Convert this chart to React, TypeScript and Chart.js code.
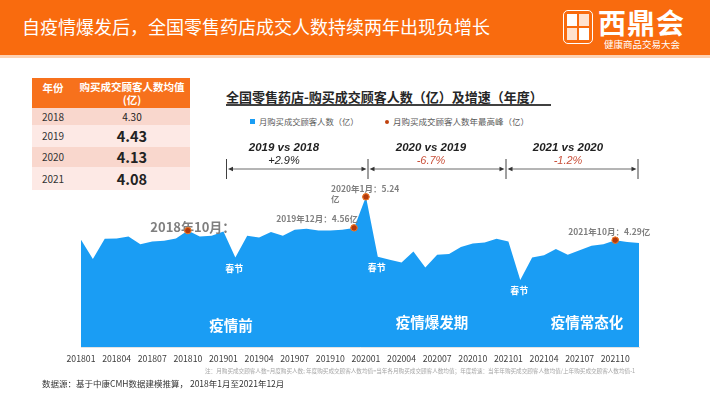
import React, { useEffect, useRef } from 'react';
import { Chart, registerables } from 'chart.js';

Chart.register(...registerables);

const months = [
  '201801', '201802', '201803', '201804', '201805', '201806', '201807', '201808', '201809', '201810', '201811', '201812',
  '201901', '201902', '201903', '201904', '201905', '201906', '201907', '201908', '201909', '201910', '201911', '201912',
  '202001', '202002', '202003', '202004', '202005', '202006', '202007', '202008', '202009', '202010', '202011', '202012',
  '202101', '202102', '202103', '202104', '202105', '202106', '202107', '202108', '202109', '202110', '202111', '202112',
];

const customers = [
  4.30, 3.88, 4.32, 4.33, 4.37, 4.20, 4.26, 4.28, 4.33, 4.50, 4.37, 4.39,
  4.48, 3.91, 4.39, 4.35, 4.47, 4.39, 4.52, 4.54, 4.50, 4.50, 4.52, 4.56,
  5.24, 3.93, 3.86, 3.80, 4.04, 3.69, 3.97, 3.99, 4.14, 4.22, 4.24, 4.32,
  4.26, 3.42, 3.91, 3.96, 4.10, 3.97, 4.07, 4.17, 4.20, 4.29, 4.25, 4.23,
];

const peakMonths = ['201810', '201912', '202001', '202110'];
const peakLabels = ['2018年10月：', '2019年12月：4.56亿', '2020年1月：5.24\n亿', '2021年10月：4.29亿'];
const springFestivalMonths = ['201902', '202002', '202102'];
const phaseLabels = ['疫情前', '疫情爆发期', '疫情常态化'];

const tableYears = ['2018', '2019', '2020', '2021'];
const tableAverages = [4.30, 4.43, 4.13, 4.08];

const comparisons = ['2019 vs 2018', '2020 vs 2019', '2021 vs 2020'];
const growthRates = ['+2.9%', '-6.7%', '-1.2%'];

const CJK = '"Noto Sans CJK SC", "Noto Sans", sans-serif';
const ORANGE = '#F96B0E';
const BLUE = '#1A9DF4';

const peakStyles = [
  { font: `bold 13px ${CJK}`, align: 'center', dx: 5, dy: -4 },
  { font: `bold 8.5px ${CJK}`, align: 'right', dx: 4, dy: -9 },
  { font: `bold 8.5px ${CJK}`, align: 'left', dx: -35, dy: -8 },
  { font: `bold 8.5px ${CJK}`, align: 'center', dx: -6, dy: -8 },
];

const annotationPlugin = {
  id: 'slideAnnotations',
  afterDatasetsDraw(chart: any) {
    const { ctx } = chart;
    const xs = chart.scales.x;
    const ys = chart.scales.y;
    ctx.save();
    ctx.textBaseline = 'middle';
    peakMonths.forEach((m, k) => {
      const i = months.indexOf(m);
      const px = xs.getPixelForValue(i);
      const py = ys.getPixelForValue(customers[i]);
      const st = peakStyles[k];
      ctx.font = st.font;
      ctx.fillStyle = '#7F7F7F';
      ctx.textAlign = st.align;
      peakLabels[k].split('\n').forEach((line, li) => {
        ctx.fillText(line, px + st.dx, py + st.dy + li * 10);
      });
    });
    ctx.font = `bold 9px ${CJK}`;
    ctx.fillStyle = '#FFFFFF';
    ctx.textAlign = 'center';
    springFestivalMonths.forEach((m) => {
      const i = months.indexOf(m);
      const px = xs.getPixelForValue(i);
      const py = ys.getPixelForValue(customers[i]);
      ctx.fillText('春节', px - 1, py + 11);
    });
    // redraw peak dots above the labels
    peakMonths.forEach((m) => {
      const i = months.indexOf(m);
      const px = xs.getPixelForValue(i);
      const py = ys.getPixelForValue(customers[i]);
      ctx.beginPath();
      ctx.arc(px, py, 3.2, 0, Math.PI * 2);
      ctx.fillStyle = '#B33A0C';
      ctx.fill();
      ctx.lineWidth = 1;
      ctx.strokeStyle = '#EE7A2A';
      ctx.stroke();
    });
    ctx.restore();
  },
};

function ChartCanvas() {
  const ref = useRef<HTMLCanvasElement | null>(null);
  useEffect(() => {
    if (!ref.current) return;
    const peakSeries = months.map((m, i) => (peakMonths.includes(m) ? customers[i] : null));
    const chart = new Chart(ref.current, {
      type: 'line',
      data: {
        labels: months,
        datasets: [
          {
            label: '月购买成交顾客人数（亿）',
            data: customers,
            fill: 'start',
            backgroundColor: BLUE,
            borderColor: BLUE,
            borderWidth: 0,
            pointRadius: 0,
            tension: 0,
          },
          {
            label: '月购买成交顾客人数年最高峰（亿）',
            data: peakSeries,
            showLine: false,
            pointRadius: 3.2,
            pointBackgroundColor: '#B33A0C',
            pointBorderColor: '#EE7A2A',
            pointBorderWidth: 1,
          },
        ],
      },
      options: {
        responsive: false,
        maintainAspectRatio: false,
        animation: false,
        layout: { padding: { left: 81, right: 71, top: 190, bottom: 35 } },
        plugins: { legend: { display: false }, tooltip: { enabled: false } },
        scales: {
          x: {
            grid: { display: false, drawTicks: false },
            border: { display: true, color: '#E3E3E3' },
            afterFit: (s: any) => { s.height = 17; },
            ticks: {
              autoSkip: false,
              maxRotation: 0,
              padding: 6,
              color: '#404040',
              font: { size: 8.7, family: CJK },
              callback: (_v: any, i: number) => (i % 3 === 0 ? months[i] : ''),
            },
          },
          y: { display: false, min: 1.95, max: 5.39 },
        },
      },
      plugins: [annotationPlugin],
    });
    return () => chart.destroy();
  }, []);
  return (
    <canvas
      ref={ref}
      width={710}
      height={399}
      style={{ position: 'absolute', left: 0, top: 0, width: 710, height: 399 }}
    />
  );
}

const abs = (s: any) => ({ position: 'absolute', ...s });

export default function App() {
  const rowBg = ['#F9D7CD', '#FDE9E5', '#F9D7CD', '#FDE9E5'];
  const rowTop = [108, 125, 147, 167];
  const rowH = [17, 22, 20, 23];
  const tickX = [226.5, 368, 506, 638];
  return (
    <div style={{ position: 'fixed', left: 0, top: 0, width: 710, height: 399, overflow: 'hidden', background: '#fff', fontFamily: CJK }}>
      {/* header */}
      <div style={abs({ left: 0, top: 0, width: 710, height: 55, background: ORANGE })} />
      <div style={abs({ left: 0, top: 55, width: 710, height: 3, background: '#FDD2B3' })} />
      <div style={abs({ left: 22, top: 15, color: '#fff', fontSize: 18, lineHeight: '22px', whiteSpace: 'nowrap' })}>
        自疫情爆发后，全国零售药店成交人数持续两年出现负增长
      </div>
      {/* logo */}
      <div style={abs({ left: 563, top: 10, width: 30, height: 34, border: '1.5px solid #fff', borderRadius: 5, boxSizing: 'border-box' })} />
      <div style={abs({ left: 567, top: 14, width: 10, height: 12, background: '#fff' })} />
      <div style={abs({ left: 579, top: 14, width: 10, height: 12, background: '#FFE2CF' })} />
      <div style={abs({ left: 567, top: 28, width: 10, height: 12, background: '#FFE2CF' })} />
      <div style={abs({ left: 579, top: 28, width: 10, height: 12, background: '#fff' })} />
      <div style={abs({ left: 598, top: 6, color: '#fff', fontSize: 28, fontWeight: 700, lineHeight: '32px', letterSpacing: 1, whiteSpace: 'nowrap' })}>西鼎会</div>
      <div style={abs({ left: 604, top: 38, color: '#fff', fontSize: 9.5, lineHeight: '12px', whiteSpace: 'nowrap' })}>健康商品交易大会</div>

      {/* table */}
      <div style={abs({ left: 32, top: 78, width: 158, height: 30, background: '#F7711C' })} />
      <div style={abs({ left: 32, top: 81, width: 42, textAlign: 'center', color: '#fff', fontSize: 10.5, fontWeight: 700, lineHeight: '14px' })}>年份</div>
      <div style={abs({ left: 74, top: 80, width: 116, textAlign: 'center', color: '#fff', fontSize: 10.5, fontWeight: 700, lineHeight: '13px' })}>
        购买成交顾客人数均值<br />(亿)
      </div>
      {tableYears.map((yr, k) => (
        <React.Fragment key={yr}>
          <div style={abs({ left: 32, top: rowTop[k], width: 158, height: rowH[k], background: rowBg[k] })} />
          <div style={abs({ left: 32, top: rowTop[k], width: 42, height: rowH[k], lineHeight: rowH[k] + 'px', textAlign: 'center', color: '#333', fontSize: 10 })}>{yr}</div>
          <div style={abs({ left: 74, top: rowTop[k], width: 116, height: rowH[k], lineHeight: rowH[k] + 'px', textAlign: 'center', color: '#222', fontSize: k === 0 ? 10 : 14.5, fontWeight: k === 0 ? 400 : 700 })}>
            {tableAverages[k].toFixed(2)}
          </div>
        </React.Fragment>
      ))}

      {/* chart title and legend */}
      <div style={abs({ left: 226, top: 89, color: '#262626', fontSize: 13, fontWeight: 700, lineHeight: '16px', whiteSpace: 'nowrap' })}>
        全国零售药店-购买成交顾客人数（亿）及增速（年度）
      </div>
      <div style={abs({ left: 226, top: 104, width: 325, height: 1.5, background: '#404040' })} />
      <div style={abs({ left: 250, top: 119, width: 5, height: 5, background: BLUE })} />
      <div style={abs({ left: 259, top: 116, color: '#595959', fontSize: 8.3, lineHeight: '11px', whiteSpace: 'nowrap' })}>月购买成交顾客人数（亿）</div>
      <div style={abs({ left: 385, top: 119.5, width: 4, height: 4, borderRadius: 2, background: '#C0410C' })} />
      <div style={abs({ left: 393, top: 116, color: '#595959', fontSize: 8.5, lineHeight: '11px', whiteSpace: 'nowrap' })}>月购买成交顾客人数年最高峰（亿）</div>

      <ChartCanvas />

      {/* comparison brackets */}
      <svg width={710} height={399} style={{ position: 'absolute', left: 0, top: 0, pointerEvents: 'none' }}>
        {tickX.map((x, k) => (
          <line key={'t' + k} x1={x} y1={159} x2={x} y2={179} stroke="#404040" strokeWidth={1} />
        ))}
        {comparisons.map((_, k) => {
          const a = tickX[k] + 1.5;
          const b = tickX[k + 1] - 1.5;
          return (
            <g key={'s' + k}>
              <line x1={a + 4} y1={169} x2={b - 4} y2={169} stroke="#6B6B6B" strokeWidth={1} />
              <polygon points={`${a},169 ${a + 5},166.8 ${a + 5},171.2`} fill="#333" />
              <polygon points={`${b},169 ${b - 5},166.8 ${b - 5},171.2`} fill="#333" />
            </g>
          );
        })}
      </svg>
      {comparisons.map((c, k) => {
        const cx = [284, 431, 568][k];
        return (
          <React.Fragment key={c}>
            <div style={abs({ left: cx - 50, top: 140, width: 100, textAlign: 'center', fontFamily: '"Liberation Sans", Arial, sans-serif', fontStyle: 'italic', fontWeight: 700, fontSize: 11.5, color: '#222', lineHeight: '14px' })}>{c}</div>
            <div style={abs({ left: cx - 50, top: 154, width: 100, textAlign: 'center', fontFamily: '"Liberation Sans", Arial, sans-serif', fontStyle: 'italic', fontSize: 11, color: k === 0 ? '#222' : '#C9503A', lineHeight: '13px' })}>{growthRates[k]}</div>
          </React.Fragment>
        );
      })}

      {/* phase labels */}
      {phaseLabels.map((p, k) => {
        const cx = [231, 432, 587][k];
        const cy = [325, 322, 322][k];
        return (
          <div key={p} style={abs({ left: cx - 50, top: cy - 10, width: 100, textAlign: 'center', color: '#fff', fontWeight: 700, fontSize: 14.5, lineHeight: '20px' })}>{p}</div>
        );
      })}

      {/* notes */}
      <div style={abs({ left: 205, top: 367, color: '#A6A6A6', fontSize: 5.6, lineHeight: '8px', whiteSpace: 'nowrap' })}>
        注：月购买成交顾客人数=月度购买人数; 年度购买成交顾客人数均值=当年各月购买成交顾客人数均值；年度增速：当年年购买成交顾客人数均值/上年购买成交顾客人数均值-1
      </div>
      <div style={abs({ left: 42, top: 377, color: '#333', fontSize: 8.5, lineHeight: '12px', whiteSpace: 'nowrap' })}>
        数据源：基于中康CMH数据建模推算， 2018年1月至2021年12月
      </div>
    </div>
  );
}
